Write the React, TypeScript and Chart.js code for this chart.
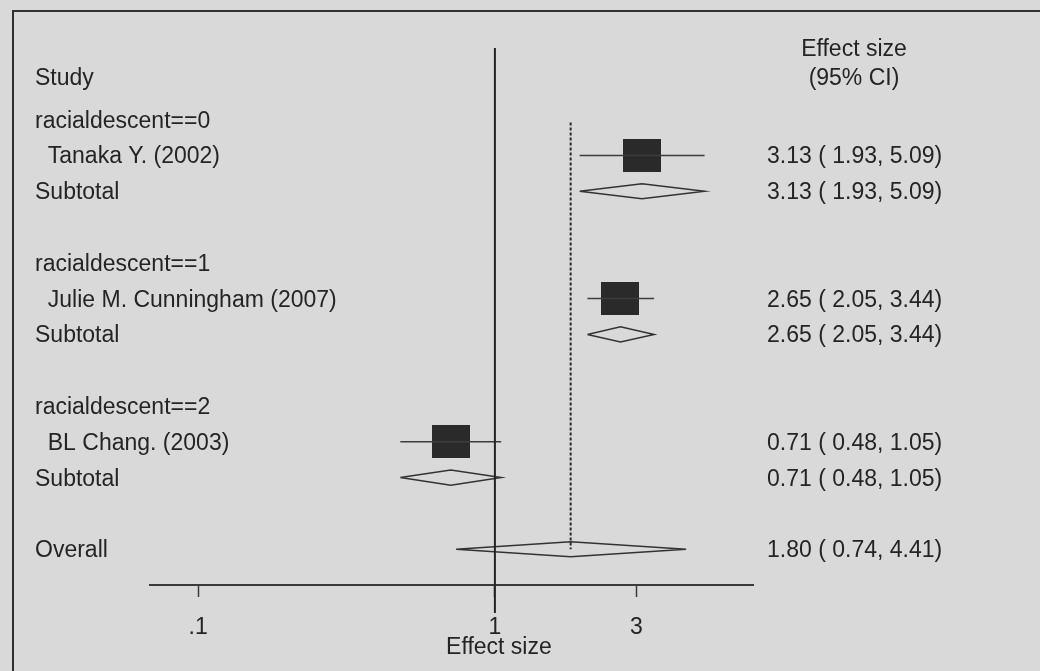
import { useEffect, useRef } from 'react';
import { Chart, registerables } from 'chart.js';

Chart.register(...registerables);

const FONT = '"Liberation Sans", Arial, Helvetica, sans-serif';
const TEXT = '#242424';
const INK = '#333333';
const BG = '#d9d9d9';

// Subgroups and their single studies (effect size with 95% CI)
const groupLabels = ['racialdescent==0', 'racialdescent==1', 'racialdescent==2'];
const studyLabels = ['Tanaka Y. (2002)', 'Julie M. Cunningham (2007)', 'BL Chang. (2003)'];
const studyEst = [3.13, 2.65, 0.71];
const studyLow = [1.93, 2.05, 0.48];
const studyHigh = [5.09, 3.44, 1.05];

// Pooled estimates per subgroup
const subtotalEst = [3.13, 2.65, 0.71];
const subtotalLow = [1.93, 2.05, 0.48];
const subtotalHigh = [5.09, 3.44, 1.05];

// Overall pooled estimate
const overallEst = [1.8];
const overallLow = [0.74];
const overallHigh = [4.41];

const xTicks = [0.1, 1, 3];
const xTickLabels = ['.1', '1', '3'];
const xTitle = 'Effect size';

// Row layout: each subgroup takes header, study, subtotal, blank
const groupRow = (g: number) => g * 4;
const studyRow = (g: number) => g * 4 + 1;
const subtotalRow = (g: number) => g * 4 + 2;
const overallRow = 12;
const headerRow = -1.2;
const DIAMOND_HALF = 0.21;

const fmt = (e: number, l: number, h: number) =>
  `${e.toFixed(2)} ( ${l.toFixed(2)}, ${h.toFixed(2)})`;

const diamond = (e: number, l: number, h: number, r: number) => [
  { x: l, y: r },
  { x: e, y: r - DIAMOND_HALF },
  { x: h, y: r },
  { x: e, y: r + DIAMOND_HALF },
  { x: l, y: r },
];

export default function App() {
  const ref = useRef<HTMLCanvasElement>(null);

  useEffect(() => {
    const canvas = ref.current;
    if (!canvas) return;

    const square = document.createElement('canvas');
    square.width = 38;
    square.height = 33;
    const sctx = square.getContext('2d')!;
    sctx.fillStyle = '#2a2a2a';
    sctx.fillRect(0, 0, 38, 33);

    const lineBase = { showLine: true, pointRadius: 0, pointHoverRadius: 0, fill: false };
    const datasets: any[] = [];

    // Line of no effect
    datasets.push({
      ...lineBase,
      data: [{ x: 1, y: -2 }, { x: 1, y: 13.78 }],
      borderColor: '#242424',
      borderWidth: 2,
      clip: false,
    });
    // Overall estimate reference line
    datasets.push({
      ...lineBase,
      data: [{ x: overallEst[0], y: 0.08 }, { x: overallEst[0], y: overallRow }],
      borderColor: '#2a2a2a',
      borderWidth: 2,
      borderDash: [3, 2],
    });

    studyEst.forEach((e, g) => {
      datasets.push({
        ...lineBase,
        data: [{ x: studyLow[g], y: studyRow(g) }, { x: studyHigh[g], y: studyRow(g) }],
        borderColor: '#3c3c3c',
        borderWidth: 1.5,
      });
      datasets.push({
        ...lineBase,
        data: diamond(subtotalEst[g], subtotalLow[g], subtotalHigh[g], subtotalRow(g)),
        borderColor: INK,
        borderWidth: 1.5,
      });
    });

    datasets.push({
      ...lineBase,
      data: diamond(overallEst[0], overallLow[0], overallHigh[0], overallRow),
      borderColor: INK,
      borderWidth: 1.5,
    });

    datasets.push({
      showLine: false,
      data: studyEst.map((e, g) => ({ x: e, y: studyRow(g) })),
      pointStyle: square,
      pointRadius: 19,
      pointHoverRadius: 19,
    });

    const textPlugin = {
      id: 'forestText',
      beforeDraw(chart: any) {
        const { ctx } = chart;
        ctx.save();
        ctx.strokeStyle = '#303030';
        ctx.lineWidth = 2;
        ctx.beginPath();
        ctx.moveTo(13, 671);
        ctx.lineTo(13, 11);
        ctx.lineTo(1040, 11);
        ctx.stroke();
        ctx.restore();
      },
      afterDraw(chart: any) {
        const { ctx } = chart;
        const ys = chart.scales.y;
        const xs = chart.scales.x;
        const base = (r: number) => ys.getPixelForValue(r) + 8;
        ctx.save();
        ctx.font = `23px ${FONT}`;
        ctx.fillStyle = TEXT;
        ctx.textBaseline = 'alphabetic';
        ctx.textAlign = 'left';
        ctx.fillText('Study', 35, base(headerRow));
        groupLabels.forEach((lab, g) => {
          ctx.fillText(lab, 35, base(groupRow(g)));
          ctx.fillText('  ' + studyLabels[g], 35, base(studyRow(g)));
          ctx.fillText('Subtotal', 35, base(subtotalRow(g)));
          ctx.fillText(fmt(studyEst[g], studyLow[g], studyHigh[g]), 767, base(studyRow(g)));
          ctx.fillText(fmt(subtotalEst[g], subtotalLow[g], subtotalHigh[g]), 767, base(subtotalRow(g)));
        });
        ctx.fillText('Overall', 35, base(overallRow));
        ctx.fillText(fmt(overallEst[0], overallLow[0], overallHigh[0]), 767, base(overallRow));
        ctx.textAlign = 'center';
        ctx.fillText('Effect size', 854, base(headerRow - 0.8));
        ctx.fillText('(95% CI)', 854, base(headerRow));
        // axis title, centred just right of the null line
        ctx.fillText(xTitle, xs.getPixelForValue(1) + 4, xs.bottom - 17);
        ctx.restore();
      },
    };

    const chart = new Chart(canvas, {
      type: 'scatter',
      data: { datasets },
      plugins: [textPlugin],
      options: {
        animation: false,
        responsive: true,
        maintainAspectRatio: false,
        layout: { padding: { left: 150, right: 287, top: 48, bottom: 0 } },
        plugins: { legend: { display: false }, tooltip: { enabled: false } },
        events: [],
        scales: {
          x: {
            type: 'logarithmic',
            min: 0.0688,
            max: 7.41,
            afterBuildTicks: (s: any) => {
              s.ticks = xTicks.map((v) => ({ value: v }));
            },
            afterFit: (s: any) => {
              s.height = 86;
            },
            grid: {
              drawOnChartArea: false,
              drawTicks: true,
              tickLength: 12,
              tickColor: '#3a3a3a',
              tickWidth: 1.5,
            },
            border: { display: true, color: '#3a3a3a', width: 2 },
            ticks: {
              autoSkip: false,
              maxRotation: 0,
              padding: 17,
              color: TEXT,
              font: { family: FONT, size: 23 },
              callback: (_v: any, i: number) => xTickLabels[i],
            },
            title: { display: false },
          },
          y: {
            type: 'linear',
            display: false,
            min: -2,
            max: 13,
            reverse: true,
          },
        },
      } as any,
    });

    return () => chart.destroy();
  }, []);

  return (
    <div
      style={{
        position: 'fixed',
        left: 0,
        top: 0,
        width: 1040,
        height: 671,
        background: BG,
      }}
    >
      <canvas ref={ref} />
    </div>
  );
}
